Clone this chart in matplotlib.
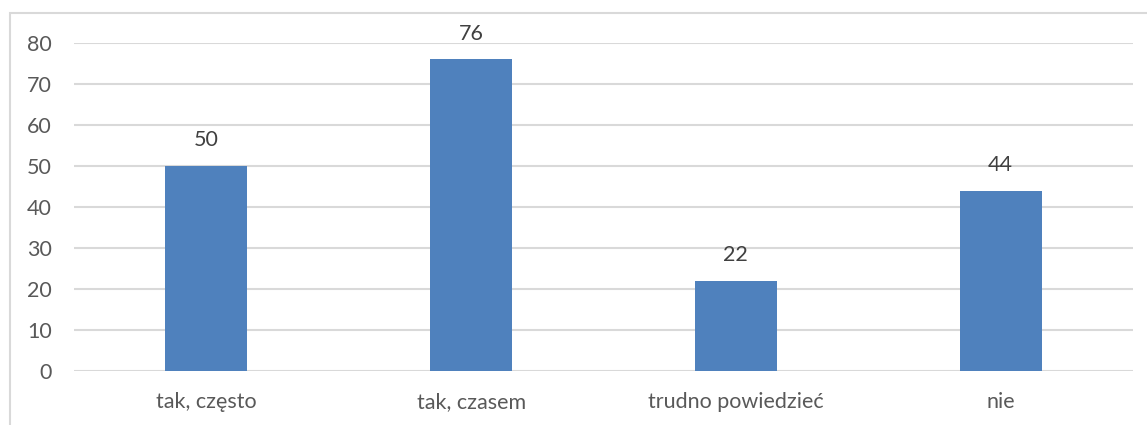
import matplotlib
matplotlib.use("Agg")
from matplotlib import pyplot as plt
from matplotlib.patches import Rectangle

categories = ["tak, często", "tak, czasem", "trudno powiedzieć", "nie"]
values = [50, 76, 22, 44]
yticks = [0, 10, 20, 30, 40, 50, 60, 70, 80]

W, H = 1147, 425
plt.rcParams['font.family'] = ['Lato', 'DejaVu Sans']

fig = plt.figure(figsize=(W / 100, H / 100), dpi=100)
ax = fig.add_axes([74 / W, 1 - 371 / H, (1133 - 74) / W, (371 - 43) / H])

# outer chart frame (only top and left edges are visible in the crop)
fig.patches.append(Rectangle((10 / W, -0.1), 1.2, 1 - 13.5 / H + 0.1,
                             transform=fig.transFigure, fill=False,
                             edgecolor="#D9D9D9", linewidth=1.5))

x = range(len(categories))
bars = ax.bar(x, values, width=0.31, color="#4F81BD", zorder=3)
for b, v in zip(bars, values):
    ax.text(b.get_x() + b.get_width() / 2, v + 3.8, str(v),
            ha="center", va="bottom", fontsize=15.5, color="#404040")

ax.set_xlim(-0.5, len(categories) - 0.5)
ax.set_ylim(0, 80)
ax.set_yticks(yticks)
ax.set_xticks(list(x))
ax.set_xticklabels(categories)
ax.yaxis.grid(True, color="#D9D9D9", linewidth=1.5, zorder=0)
for s in ax.spines.values():
    s.set_visible(False)
ax.tick_params(axis="both", length=0, labelsize=15.5, labelcolor="#595959")
ax.tick_params(axis="y", pad=16)
ax.tick_params(axis="x", pad=15)

fig.savefig("out.png", dpi=100)
